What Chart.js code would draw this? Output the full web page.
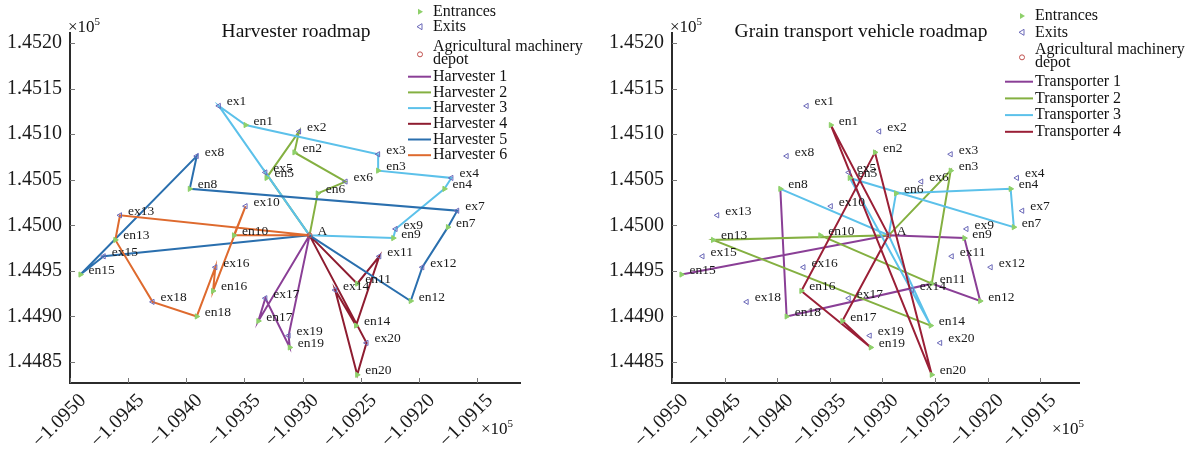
<!DOCTYPE html>
<html><head><meta charset="utf-8">
<script src="https://cdn.jsdelivr.net/npm/chart.js@4.4.1/dist/chart.umd.min.js"></script>
<style>
html,body{margin:0;padding:0;background:#fff;}
#wrap{position:relative;width:1192px;height:450px;overflow:hidden;}
canvas{position:absolute;top:0;}
</style></head><body>
<div id="wrap">
<canvas id="c1" width="596" height="450" style="left:0"></canvas>
<canvas id="c2" width="596" height="450" style="left:596px"></canvas>
</div>
<script>
// Field gate coordinates, in units of 10^5
const entranceNames = ['en1','en2','en3','en4','en5','en6','en7','en8','en9','en10','en11','en12','en13','en14','en15','en16','en17','en18','en19','en20'];
const entranceX = [-1.09349,-1.09307,-1.09235,-1.09178,-1.09331,-1.09287,-1.09175,-1.09397,-1.09222,-1.09359,-1.09253,-1.09207,-1.09461,-1.09254,-1.09491,-1.09377,-1.09338,-1.09391,-1.09311,-1.09253];
const entranceY = [1.45110,1.45080,1.45060,1.45040,1.45052,1.45035,1.44998,1.45040,1.44986,1.44989,1.44936,1.44917,1.44984,1.44890,1.44946,1.44928,1.44895,1.44900,1.44866,1.44836];
const exitNames = ['ex1','ex2','ex3','ex4','ex5','ex6','ex7','ex8','ex9','ex10','ex11','ex12','ex13','ex14','ex15','ex16','ex17','ex18','ex19','ex20'];
const exitX = [-1.09372,-1.09303,-1.09235,-1.09172,-1.09332,-1.09263,-1.09167,-1.09391,-1.09220,-1.09349,-1.09234,-1.09197,-1.09457,-1.09272,-1.09471,-1.09375,-1.09332,-1.09429,-1.09312,-1.09245];
const exitY = [1.45131,1.45103,1.45078,1.45052,1.45058,1.45048,1.45016,1.45076,1.44996,1.45021,1.44966,1.44954,1.45011,1.44929,1.44966,1.44954,1.44920,1.44916,1.44879,1.44871];
const depotX = [-1.09294];
const depotY = [1.44989];

// Axis ticks
const xTicks = [-1.0950,-1.0945,-1.0940,-1.0935,-1.0930,-1.0925,-1.0920,-1.0915];
const yTicks = [1.4485,1.4490,1.4495,1.4500,1.4505,1.4510,1.4515,1.4520];

// Harvester tours (depot A -> field gates -> A)
const harvester1 = ['A','en17','ex17','en19','ex19','A'];
const harvester2 = ['A','en6','ex6','en2','ex2','en5','ex5','A'];
const harvester3 = ['A','en9','ex9','en4','ex4','en3','ex3','en1','ex1','A'];
const harvester4 = ['A','en11','ex11','en14','ex14','en20','ex20','A'];
const harvester5 = ['A','en12','ex12','en7','ex7','en8','ex8','en15','ex15','A'];
const harvester6 = ['A','en10','ex10','en16','ex16','en18','ex18','en13','ex13','A'];

// Grain transport vehicle routes
const transporter1 = ['en15','A','en9','en12','en11','en18','en8'];
const transporter2 = ['en14','en13','A','en3','en11','en10'];
const transporter3 = ['en8','A','en14','en5','en7','en4','en6','A'];
const transporter4 = ['A','en1','en20','en2','en16','en19','en17','A'];

const harvesterNames = ['Harvester 1','Harvester 2','Harvester 3','Harvester 4','Harvester 5','Harvester 6'];
const transporterNames = ['Transporter 1','Transporter 2','Transporter 3','Transporter 4'];

const routeColors = ['#8a3f96','#84b041','#5cc1ea','#8e1c30','#2a6fae','#de6a2e'];
const transColors = ['#8a3f96','#84b041','#5cc1ea','#9a1f36'];
const enColor = '#8ed06a';
const exColor = '#6a68b8';
const depotColor = '#c0504d';
const FONT = '"Liberation Serif","Times New Roman",serif';

const pos = {A: {x: depotX[0], y: depotY[0]}};
entranceNames.forEach((n, i) => pos[n] = {x: entranceX[i], y: entranceY[i]});
exitNames.forEach((n, i) => pos[n] = {x: exitX[i], y: exitY[i]});
const pts = route => route.map(n => ({x: pos[n].x, y: pos[n].y}));

function buildDatasets(routes, colors) {
  const ds = [
    {label: 'Entrances', data: entranceX.map((x, i) => ({x, y: entranceY[i]})), showLine: false, order: -100,
     pointStyle: 'triangle', rotation: 90, radius: 3, borderColor: enColor, backgroundColor: enColor, borderWidth: 1},
    {label: 'Exits', data: exitX.map((x, i) => ({x, y: exitY[i]})), showLine: false, order: -100,
     pointStyle: 'triangle', rotation: -90, radius: 3, borderColor: exColor, backgroundColor: 'rgba(0,0,0,0)', borderWidth: 1},
    {label: 'Agricultural machinery depot', data: [{x: depotX[0], y: depotY[0]}], showLine: false, order: -100,
     pointStyle: 'circle', radius: 2.5, borderColor: depotColor, backgroundColor: 'rgba(0,0,0,0)', borderWidth: 1}
  ];
  // later routes are painted over earlier ones
  routes.forEach((r, i) => ds.push({
    label: r.name, data: pts(r.path), showLine: true, borderColor: colors[i], backgroundColor: colors[i],
    borderWidth: 2, pointRadius: 0, tension: 0, order: -i
  }));
  return ds;
}

const labelPlugin = {
  id: 'mapText',
  afterDraw(chart, args, opts) {
    const ctx = chart.ctx, xs = chart.scales.x, ys = chart.scales.y, ca = chart.chartArea;
    ctx.save();
    // inward tick marks
    ctx.strokeStyle = '#777'; ctx.lineWidth = 1;
    xTicks.forEach(v => { const px = Math.round(xs.getPixelForValue(v)) + 0.5;
      ctx.beginPath(); ctx.moveTo(px, ca.bottom); ctx.lineTo(px, ca.bottom - 5); ctx.stroke(); });
    yTicks.forEach(v => { const py = Math.round(ys.getPixelForValue(v)) + 0.5;
      ctx.beginPath(); ctx.moveTo(ca.left, py); ctx.lineTo(ca.left + 5, py); ctx.stroke(); });
    // gate labels
    ctx.fillStyle = '#1a1a1a'; ctx.font = '13.5px ' + FONT; ctx.textBaseline = 'middle'; ctx.textAlign = 'left';
    Object.keys(pos).forEach(n => {
      const px = xs.getPixelForValue(pos[n].x), py = ys.getPixelForValue(pos[n].y);
      ctx.fillText(n, px + 8, py - 4);
    });
    // title
    ctx.fillStyle = '#111'; ctx.font = '19.5px ' + FONT; ctx.textAlign = 'center'; ctx.textBaseline = 'alphabetic';
    ctx.fillText(opts.title, opts.titleX, 37);
    // exponent notes
    const exp = (x, y) => {
      ctx.textAlign = 'left'; ctx.font = '17px ' + FONT; ctx.fillText('\u00d710', x, y);
      const w = ctx.measureText('\u00d710').width; ctx.font = '11px ' + FONT; ctx.fillText('5', x + w, y - 7);
    };
    exp(ca.left - 2, 32);
    exp(opts.expX, 434);
    // legend
    const L = opts.legend;
    ctx.font = '16px ' + FONT; ctx.textBaseline = 'middle'; ctx.textAlign = 'left'; ctx.fillStyle = '#111';
    const mx = L.x - 13;
    ctx.fillStyle = enColor; ctx.beginPath(); ctx.moveTo(mx - 2, L.rows[0] - 3); ctx.lineTo(mx + 3, L.rows[0]); ctx.lineTo(mx - 2, L.rows[0] + 3); ctx.closePath(); ctx.fill();
    ctx.strokeStyle = exColor; ctx.beginPath(); ctx.moveTo(mx + 2, L.rows[1] - 3); ctx.lineTo(mx - 3, L.rows[1]); ctx.lineTo(mx + 2, L.rows[1] + 3); ctx.closePath(); ctx.stroke();
    ctx.strokeStyle = depotColor; ctx.beginPath(); ctx.arc(mx, (L.rows[2] + L.rows[3]) / 2 + 1, 2.5, 0, Math.PI * 2); ctx.stroke();
    ctx.fillStyle = '#111';
    ctx.fillText('Entrances', L.x, L.rows[0]);
    ctx.fillText('Exits', L.x, L.rows[1]);
    ctx.fillText('Agricultural machinery', L.x, L.rows[2]);
    ctx.fillText('depot', L.x, L.rows[3]);
    opts.names.forEach((nm, i) => {
      const y = L.rows[4] + i * L.step;
      ctx.strokeStyle = opts.colors[i]; ctx.lineWidth = 2;
      ctx.beginPath(); ctx.moveTo(L.lineX0, y); ctx.lineTo(L.x - 2, y); ctx.stroke();
      ctx.fillText(nm, L.x, y);
    });
    ctx.restore();
  }
};

function makeChart(id, routes, colors, names, area, textOpts) {
  return new Chart(document.getElementById(id), {
    type: 'scatter',
    data: {datasets: buildDatasets(routes, colors)},
    plugins: [labelPlugin],
    options: {
      responsive: false, animation: false,
      layout: {padding: {left: 0, top: 33, right: 596 - area.right, bottom: 0}},
      plugins: {legend: {display: false}, tooltip: {enabled: false},
        mapText: Object.assign({names, colors}, textOpts)},
      scales: {
        x: {type: 'linear', min: -1.0950, max: -1.09113,
          afterFit: s => { s.height = 67; },
          afterBuildTicks: s => { s.ticks = xTicks.map(v => ({value: v})); },
          grid: {display: false, drawTicks: false},
          border: {display: true, color: '#2b2b2b', width: 2},
          ticks: {minRotation: 45, maxRotation: 45, padding: 6, labelOffset: 13, color: '#1a1a1a',
            font: {family: FONT, size: 20},
            callback: v => '\u2212' + Math.abs(v).toFixed(4)}},
        y: {type: 'linear', min: 1.44827, max: 1.45211,
          afterFit: s => { s.width = area.left; },
          afterBuildTicks: s => { s.ticks = yTicks.map(v => ({value: v})); },
          grid: {display: false, drawTicks: false},
          border: {display: true, color: '#2b2b2b', width: 2},
          ticks: {padding: 8, color: '#1a1a1a', font: {family: FONT, size: 20},
            callback: v => v.toFixed(4)}}
      }
    }
  });
}

makeChart('c1',
  [harvester1, harvester2, harvester3, harvester4, harvester5, harvester6].map((p, i) => ({name: harvesterNames[i], path: p})),
  routeColors, harvesterNames, {left: 70, right: 520},
  {title: 'Harvester roadmap', titleX: 296, expX: 481,
   legend: {x: 433, lineX0: 408, rows: [11.7, 26.7, 46.7, 60, 76.7], step: 15.7}});

makeChart('c2',
  [transporter1, transporter2, transporter3, transporter4].map((p, i) => ({name: transporterNames[i], path: p})),
  transColors, transporterNames, {left: 76, right: 483},
  {title: 'Grain transport vehicle roadmap', titleX: 265, expX: 456,
   legend: {x: 439, lineX0: 409, rows: [16, 32.3, 50, 62.7, 81.7], step: 16.7}});
</script>
</body></html>
